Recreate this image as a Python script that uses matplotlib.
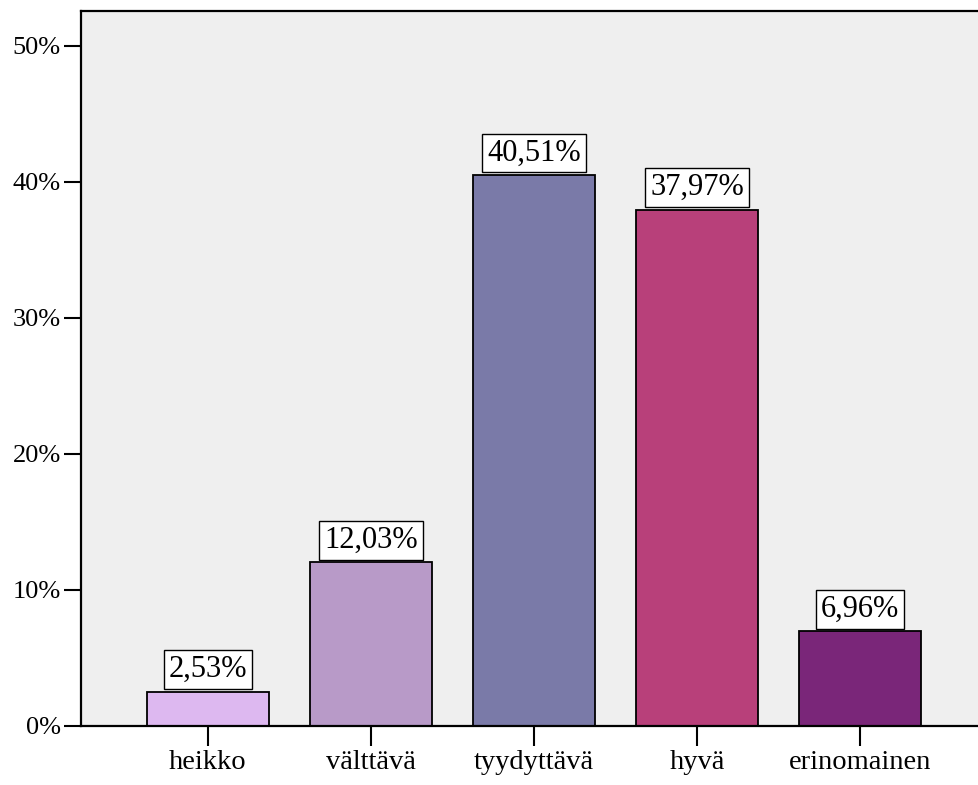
import matplotlib
matplotlib.use("Agg")
import matplotlib.pyplot as plt
import numpy as np

plt.rcParams['font.family'] = ['Liberation Serif', 'DejaVu Serif']

# arvosanojen jakauma (%)
categories = ['heikko', 'välttävä', 'tyydyttävä', 'hyvä', 'erinomainen']
percent = [2.53, 12.03, 40.51, 37.97, 6.96]
colors = ['#DDB8F0', '#B89AC8', '#7A7AA8', '#B8407A', '#7A2679']
yticks = [0, 10, 20, 30, 40, 50]

fig = plt.figure(figsize=(9.79, 7.85), dpi=100)
ax = fig.add_axes([81 / 979, 1 - 726 / 785, 898 / 979, 715 / 785])
ax.set_facecolor('#EFEFEF')

x = np.arange(len(categories))
bars = ax.bar(x, percent, width=122 / 163, color=colors, edgecolor='black', linewidth=1.3, zorder=2)

for xi, val in zip(x, percent):
    ax.annotate(f"{val:.2f}%".replace('.', ','), (xi, val),
                xytext=(0, 5.5), textcoords='offset points',
                ha='center', va='bottom', fontsize=22,
                bbox=dict(boxstyle='square,pad=0.16', fc='white', ec='black', lw=1.0),
                zorder=3)

ax.set_xlim((81 - 208) / 163, (979 - 208) / 163)
ax.set_ylim(0, 715 / 13.6)
ax.set_xticks(x)
ax.set_xticklabels(categories, fontsize=20.5)
ax.set_yticks(yticks)
ax.set_yticklabels([f"{t}%" for t in yticks], fontsize=19)

ax.tick_params(axis='x', length=14.5, width=1.5, pad=3)
ax.tick_params(axis='y', length=12, width=1.5, pad=2.5)

for side in ['left', 'bottom', 'top']:
    ax.spines[side].set_linewidth(1.6)
ax.spines['right'].set_visible(False)

fig.savefig('out.png', dpi=100)
